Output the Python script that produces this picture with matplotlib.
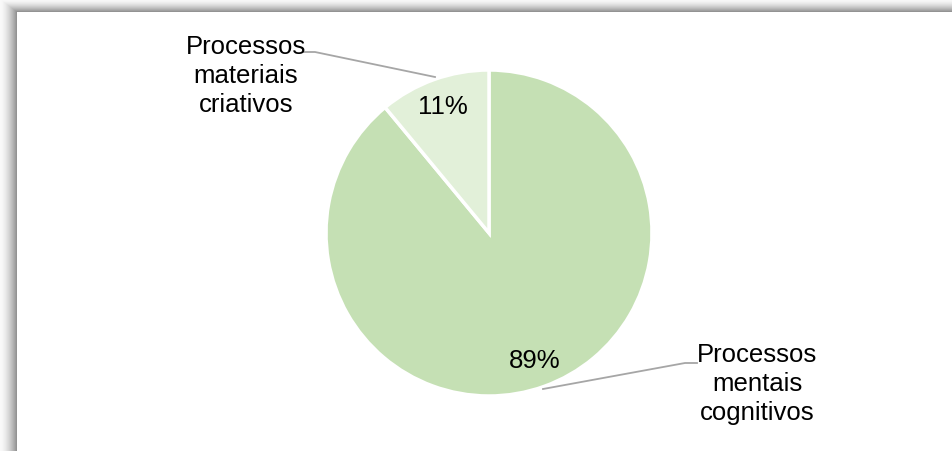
import numpy as np
import matplotlib
matplotlib.use("Agg")
import matplotlib.pyplot as plt

# data
labels = ["Processos\nmentais\ncognitivos", "Processos\nmateriais\ncriativos"]
values = [89, 11]
colors = ["#C5E0B4", "#E2F0D9"]

W, H = 952, 452
fig = plt.figure(figsize=(W / 100, H / 100), dpi=100)

# frame with shadow on top/left
bg = fig.add_axes([0, 0, 1, 1])
rows, cols = np.mgrid[0:H, 0:W]
img = np.full((H, W), 1.0)
tl = np.clip(cols / 16.0, 0, 1)
tt = np.clip(rows / 12.0, 0, 1)
left = cols < 17
top = rows < 13
t = np.where(left & top, np.minimum(tl, tt), np.where(left, tl, tt))
shade = 0.98 - 0.40 * t ** 1.6
img = np.where(left | top, shade, img)
bg.imshow(np.dstack([img] * 3), aspect="auto", interpolation="nearest")
bg.axis("off")

# pie axes: 1 unit = 163 px, centre at (489, 234)
cx, cy, R = 489, 234, 163
ax = fig.add_axes([0, 0, 1, 1])
fs = 18.5

wedges, texts, autotexts = ax.pie(
    values, colors=colors, startangle=90, counterclock=False,
    autopct="%1.0f%%", pctdistance=0.83, radius=1.0,
    wedgeprops=dict(edgecolor="white", linewidth=2.5),
    textprops=dict(fontsize=fs, family="Liberation Sans", color="#000000"),
    frame=False,
)
ax.set_xlim(-cx / R, (W - cx) / R)
ax.set_ylim((cy - H) / R, cy / R)
ax.set_aspect("auto")
ax.axis("off")


def px(x, y):
    return (x - cx) / R, (cy - y) / R


# category labels with leader lines
lx, ly = px(757, 384)
ax.text(lx, ly, labels[0], ha="center", va="center", fontsize=fs,
        family="Liberation Sans", linespacing=1.25)
pts = [px(543, 390), px(685, 364), px(697, 364)]
ax.plot([p[0] for p in pts], [p[1] for p in pts], color="#A6A6A6", lw=1.3)

lx, ly = px(246, 76)
ax.text(lx, ly, labels[1], ha="center", va="center", fontsize=fs,
        family="Liberation Sans", linespacing=1.25)
pts = [px(303, 53), px(315, 53), px(435, 78)]
ax.plot([p[0] for p in pts], [p[1] for p in pts], color="#A6A6A6", lw=1.3)

plt.savefig("out.png", dpi=100)
